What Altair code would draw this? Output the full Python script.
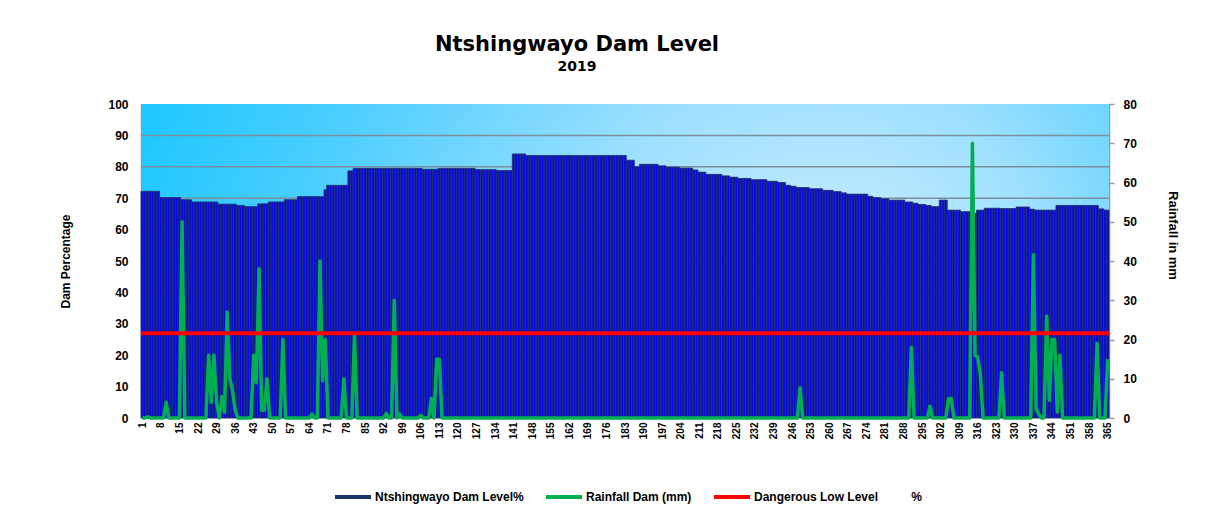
import altair as alt
import pandas as pd

# ---------------- data ----------------
# Dam level (%) as run-lengths: day on which a new level starts, and that level
level_seg_start = [1, 8, 16, 20, 30, 37, 40, 45, 49, 55,
                   60, 70, 71, 79, 81, 107, 113, 127, 135, 141,
                   146, 184, 187, 189, 196, 199, 204, 209, 211, 214,
                   220, 223, 226, 231, 237, 241, 244, 246, 248, 253,
                   258, 262, 265, 267, 275, 277, 280, 283, 289, 292,
                   294, 297, 299, 302, 305, 310, 314, 316, 319, 325,
                   331, 336, 338, 346, 362, 364]
level_seg_value = [72.2, 70.2, 69.5, 68.8, 68.1, 67.7, 67.3, 68.2, 68.8, 69.5,
                   70.5, 72.7, 74.1, 78.7, 79.5, 79.2, 79.5, 79.1, 78.8, 84.1,
                   83.6, 82.1, 80.0, 80.8, 80.3, 79.9, 79.6, 79.0, 78.3, 77.6,
                   77.1, 76.7, 76.3, 75.9, 75.4, 75.0, 74.1, 73.8, 73.4, 73.0,
                   72.5, 72.1, 71.7, 71.3, 70.6, 70.2, 69.8, 69.4, 68.8, 68.4,
                   68.0, 67.7, 67.3, 69.4, 66.2, 65.7, 65.1, 66.2, 66.8, 66.7,
                   67.2, 66.5, 66.2, 67.7, 66.6, 66.2]

# Rainfall (mm): days with rain and the amount; every other day is 0
rain_days = [3, 10, 16, 26, 27, 28, 29, 31, 32, 33, 34, 35, 36,
             43, 44, 45, 46, 47, 48, 54, 65, 68, 69, 70, 77, 81,
             93, 96, 98, 106, 110, 112, 113, 249, 291, 298, 305, 306,
             314, 315, 316, 317, 325, 337, 338, 339, 342, 343, 344,
             345, 346, 347, 361, 365]
rain_values = [0.3, 4, 50, 16, 4, 16, 4, 5.5, 1.5, 27, 10, 7, 2,
               16, 9, 38, 2, 2, 10, 20, 1, 40, 9.5, 20, 10, 21,
               1.2, 30, 1, 0.7, 5, 15, 15, 7.7, 18, 3, 5, 5,
               70, 16, 15.5, 11, 11.5, 41.6, 2.5, 1, 26, 4.5, 20,
               20, 1.5, 16, 19, 15]

danger_level = [27]
x_tick_days = list(range(1, 366, 7))
left_ticks = list(range(0, 101, 10))
right_ticks = list(range(0, 81, 10))
grid_levels = list(range(10, 100, 10))

series_names = ["Ntshingwayo Dam Level%", "Rainfall Dam (mm)",
                "Dangerous Low Level" + "\u00a0" * 10 + "%"]
series_colors = ["#1f3466", "#00b050", "#ff0000"]

# ---------------- tables ----------------
days = list(range(1, 366))
level = []
k = 0
for d in days:
    while k + 1 < len(level_seg_start) and level_seg_start[k + 1] <= d:
        k += 1
    level.append(level_seg_value[k])
rain_lookup = dict(zip(rain_days, rain_values))
rain = [rain_lookup.get(d, 0.0) for d in days]

bars_df = pd.DataFrame({"day": days, "level": level, "series": series_names[0]})
rain_df = pd.DataFrame({"day": days, "rain": rain, "series": series_names[1]})
danger_df = pd.DataFrame({"level": danger_level, "series": series_names[2]})
grid_df = pd.DataFrame({"g": grid_levels})
panel_df = pd.DataFrame({"a": [0.5], "b": [365.5], "lo": [0], "hi": [100]})

# ---------------- styling ----------------
FONT = "Liberation Sans"
x_scale = alt.Scale(domain=[0.5, 365.5], nice=False, zero=False)
y_left = alt.Scale(domain=[0, 100], nice=False)
x_axis = alt.Axis(values=x_tick_days, format="d", labelAngle=-90,
                  labelFont=FONT, labelFontSize=10, labelFontWeight="bold",
                  labelColor="black", labelOverlap=False, labelFlush=False,
                  ticks=False, grid=False, domain=False, labelPadding=4,
                  title=None)

legend = alt.Legend(
    orient="none", legendX=192, legendY=373, direction="horizontal",
    title=None, labelFont=FONT, labelFontSize=12, labelFontWeight="bold",
    labelColor="black", columnPadding=14, labelOffset=2, symbolSize=1296,
    symbolType="stroke", symbolStrokeWidth=4, labelLimit=400)

stroke_enc = alt.Stroke("series:N",
                        scale=alt.Scale(domain=series_names, range=series_colors),
                        legend=legend)

sky = alt.RadialGradient(
    gradient="radial", x1=0.74, y1=0.55, r1=0, x2=0.62, y2=0.55, r2=0.7,
    stops=[alt.GradientStop(color="#d2f0ff", offset=0),
           alt.GradientStop(color="#9ee0ff", offset=0.35),
           alt.GradientStop(color="#4cceff", offset=0.7),
           alt.GradientStop(color="#12c6ff", offset=1)])

panel = alt.Chart(panel_df).mark_rect(fill=sky).encode(
    x=alt.X("a:Q", scale=x_scale, axis=x_axis),
    x2="b:Q",
    y=alt.Y("lo:Q", scale=y_left, axis=None),
    y2="hi:Q",
)

grid = alt.Chart(grid_df).mark_rule(color="#7b8e99", strokeWidth=1.5).encode(
    y=alt.Y("g:Q", scale=y_left, axis=None),
)

bars = alt.Chart(bars_df).transform_calculate(
    x0="datum.day - 0.5", x1="datum.day + 0.5", base="0"
).mark_bar(strokeWidth=0.8, fill="#0a0ae0").encode(
    x=alt.X("x0:Q", scale=x_scale, axis=x_axis),
    x2="x1:Q",
    y=alt.Y("level:Q", scale=y_left,
            axis=alt.Axis(orient="left", values=left_ticks, grid=False,
                          domainColor="#9a9a9a", domainWidth=1.5,
                          ticks=False, labelPadding=13,
                          labelFont=FONT, labelFontSize=12,
                          labelFontWeight="bold", labelColor="black",
                          title="Dam Percentage", titleFont=FONT,
                          titleFontSize=12, titleFontWeight="bold",
                          titleColor="black", titleX=-76, titleY=157,
                          titleAngle=-90, titleAlign="center",
                          titleBaseline="middle")),
    y2="base:Q",
    stroke=stroke_enc,
)

rain_line = alt.Chart(rain_df).mark_line(strokeWidth=3.5, strokeJoin="round").encode(
    x=alt.X("day:Q", scale=x_scale, axis=x_axis),
    y=alt.Y("rain:Q", scale=alt.Scale(domain=[0, 80], nice=False),
            axis=alt.Axis(orient="right", values=right_ticks, grid=False,
                          domainColor="#9a9a9a", domainWidth=1.5,
                          tickColor="#9a9a9a", tickSize=5, tickWidth=1.5,
                          labelPadding=9, labelFont=FONT, labelFontSize=12,
                          labelFontWeight="bold", labelColor="black",
                          title="Rainfall in mm", titleFont=FONT,
                          titleFontSize=13, titleFontWeight="bold",
                          titleColor="black", titleX=63, titleY=131,
                          titleAngle=90, titleAlign="center",
                          titleBaseline="middle")),
    stroke=stroke_enc,
)

danger = alt.Chart(danger_df).mark_rule(strokeWidth=4).encode(
    y=alt.Y("level:Q", scale=y_left, axis=None),
    stroke=stroke_enc,
)

chart = alt.layer(panel, grid, bars, rain_line, danger).resolve_scale(
    y="independent"
).properties(
    width=968, height=314, autosize="none",
    padding={"left": 133, "top": 96, "right": 91, "bottom": 96},
    title=alt.Title("Ntshingwayo Dam Level", subtitle="2019",
                    font="DejaVu Sans", fontSize=21, fontWeight="bold",
                    color="black", subtitleFont="DejaVu Sans",
                    subtitleFontSize=14, subtitleFontWeight="bold",
                    subtitleColor="black", anchor="middle", dx=-48,
                    offset=24, subtitlePadding=5),
).configure_view(stroke="#a0a0a0", strokeWidth=1.5
).configure(background="white")

chart.save("out.html", embed_options={"renderer": "svg", "actions": False})
